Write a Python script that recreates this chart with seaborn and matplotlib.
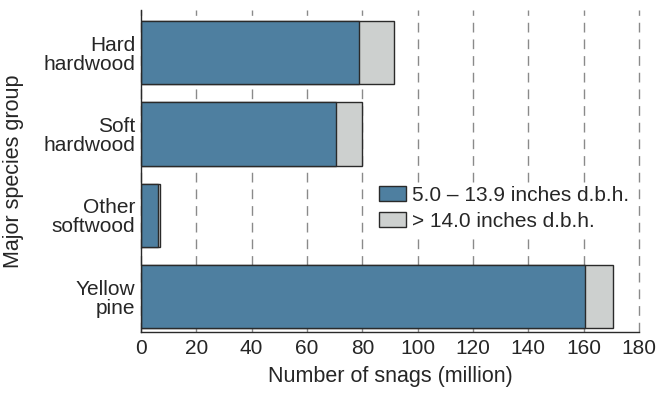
import matplotlib
matplotlib.use("Agg")
import matplotlib.pyplot as plt
import matplotlib.patches as mpatches
from matplotlib.ticker import MultipleLocator
import seaborn as sns
import pandas as pd

# data
groups = ["Hard\nhardwood", "Soft\nhardwood", "Other\nsoftwood", "Yellow\npine"]
small_dbh = [78.7, 70.4, 6.0, 160.5]    # 5.0 - 13.9 inches d.b.h.
large_dbh = [12.6, 9.6, 1.0, 10.0]      # > 14.0 inches d.b.h.
legend_labels = ["5.0 \u2013 13.9 inches d.b.h.", "> 14.0 inches d.b.h."]

BLUE = "#4e7fa0"
GRAY = "#cdd0cf"
EDGE = "#2a2a2a"

df = pd.DataFrame({"group": groups, "small": small_dbh, "large": large_dbh})
df["total"] = df["small"] + df["large"]

sns.set_style("white")
plt.rcParams["font.family"] = ["Liberation Sans", "DejaVu Sans"]

fig = plt.figure(figsize=(6.6, 3.94), dpi=100)
ax = fig.add_axes([0.2136, 0.157, 0.7546, 0.8176])

sns.barplot(data=df, y="group", x="total", orient="h", color=GRAY, width=0.78,
            edgecolor=EDGE, linewidth=1.0, saturation=1, ax=ax, zorder=3)
sns.barplot(data=df, y="group", x="small", orient="h", color=BLUE, width=0.78,
            edgecolor=EDGE, linewidth=1.0, saturation=1, ax=ax, zorder=4)

ax.set_xlim(0, 180)
ax.set_ylim(3.437, -0.525)
ax.xaxis.set_major_locator(MultipleLocator(20))
ax.xaxis.set_minor_locator(MultipleLocator(10))
ax.grid(axis="x", which="major", color="#8a8a8a", linestyle=(0, (7, 5)), linewidth=1.0, zorder=0)
for gl in ax.get_xgridlines():
    gl.set_clip_on(False)
ax.set_axisbelow(True)

for side in ["top", "right"]:
    ax.spines[side].set_visible(False)
for side in ["left", "bottom"]:
    ax.spines[side].set_color(EDGE)
    ax.spines[side].set_linewidth(1.0)
    ax.spines[side].set_zorder(5)

ax.tick_params(axis="x", which="major", direction="inout", length=6, width=1, color=EDGE,
               labelsize=15, pad=2)
ax.tick_params(axis="x", which="minor", direction="out", length=3, width=1, color=EDGE)
ax.tick_params(axis="y", length=0, labelsize=15, pad=4)
for lbl in ax.get_yticklabels():
    lbl.set_horizontalalignment("right")
    lbl.set_multialignment("right")
    lbl.set_linespacing(1.0)

ax.set_xlabel("Number of snags (million)", fontsize=15.5, labelpad=6)
ax.set_ylabel("Major species group", fontsize=15.5, labelpad=14)

handles = [mpatches.Patch(facecolor=BLUE, edgecolor=EDGE, linewidth=1.0),
           mpatches.Patch(facecolor=GRAY, edgecolor=EDGE, linewidth=1.0)]
leg = ax.legend(handles, legend_labels, loc="upper left", bbox_to_anchor=(0.474, 0.46),
                frameon=True, fontsize=15, handlelength=1.3, handleheight=0.7,
                handletextpad=0.3, labelspacing=0.32, borderpad=0.1, borderaxespad=0)
leg.get_frame().set_facecolor("white")
leg.get_frame().set_edgecolor("none")
leg.get_frame().set_alpha(1)
leg.get_frame().set_boxstyle("square", pad=0)
leg.set_zorder(6)

fig.savefig("out.png", dpi=100, facecolor="white")
